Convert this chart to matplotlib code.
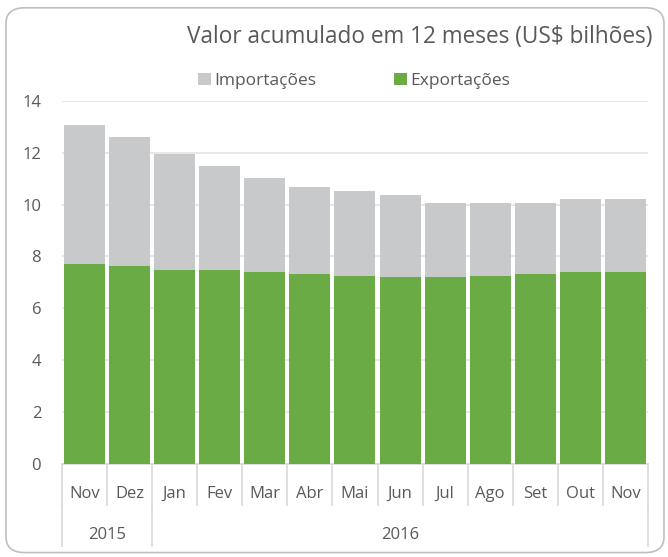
import matplotlib
matplotlib.use("Agg")
import matplotlib.pyplot as plt
from matplotlib.patches import FancyBboxPatch, Patch
import matplotlib.transforms as mtransforms

plt.rcParams['font.family'] = ['Open Sans', 'DejaVu Sans']

months = ["Nov", "Dez", "Jan", "Fev", "Mar", "Abr", "Mai", "Jun", "Jul", "Ago", "Set", "Out", "Nov"]
years = ["2015", "2016"]
year_counts = [2, 11]
exportacoes = [7.71, 7.64, 7.48, 7.48, 7.40, 7.34, 7.26, 7.19, 7.19, 7.26, 7.34, 7.42, 7.42]
total = [13.05, 12.60, 11.94, 11.49, 11.04, 10.67, 10.53, 10.37, 10.08, 10.08, 10.08, 10.22, 10.22]
importacoes = [t - e for t, e in zip(total, exportacoes)]

GREEN = "#6AAB45"
GRAY = "#C8C9CB"
TXT = "#595959"
GRID = "#E3E3E3"

fig = plt.figure(figsize=(6.68, 5.57), dpi=100)
border = FancyBboxPatch((0.009, 0.008), 0.985, 0.978, boxstyle="round,pad=0,rounding_size=0.028",
                        transform=fig.transFigure, facecolor="none", edgecolor="#BFBFBF", linewidth=1.2,
                        zorder=-1)
fig.patches.append(border)

ax = fig.add_axes([0.0928, 0.167, 0.8772, 0.652])
x = list(range(len(months)))
ax.bar(x, exportacoes, width=0.91, color=GREEN, zorder=3, label="Exportações")
ax.bar(x, importacoes, width=0.91, bottom=exportacoes, color=GRAY, zorder=3, label="Importações")

ax.set_xlim(-0.5, len(months) - 0.5)
ax.set_ylim(0, 14)
ax.set_yticks(range(0, 15, 2))
ax.yaxis.grid(True, color=GRID, linewidth=1.2, zorder=0)
for s in ["top", "right", "left"]:
    ax.spines[s].set_visible(False)
ax.spines["bottom"].set_color("#D9D9D9")
ax.spines["bottom"].set_linewidth(1.2)
ax.tick_params(axis="y", length=0, labelsize=12, labelcolor=TXT, pad=15)
ax.set_xticks([])
ax.patch.set_alpha(0)

trans = mtransforms.blended_transform_factory(ax.transData, ax.transAxes)
# month labels and separators
for i, m in enumerate(months):
    ax.text(i, -0.083, m, transform=trans, ha="center", va="center", fontsize=12, color=TXT)
for b in range(len(months) + 1):
    ax.plot([b - 0.5, b - 0.5], [0, -0.113], transform=trans, color="#D9D9D9", lw=1.2, clip_on=False)
# year labels and separators
start = 0
bounds = [0]
for y, c in zip(years, year_counts):
    ax.text(start + (c - 1) / 2, -0.195, y, transform=trans, ha="center", va="center", fontsize=12, color=TXT)
    start += c
    bounds.append(start)
for b in bounds:
    ax.plot([b - 0.5, b - 0.5], [-0.113, -0.226], transform=trans, color="#D9D9D9", lw=1.2, clip_on=False)

fig.text(0.976, 0.934, "Valor acumulado em 12 meses (US$ bilhões)", ha="right", va="center",
         fontsize=16.3, color=TXT)

handles = [Patch(facecolor=GRAY), Patch(facecolor=GREEN)]
fig.legend(handles, ["Importações", "Exportações"], loc="center", bbox_to_anchor=(0.53, 0.855),
           ncol=2, frameon=False, fontsize=12.5, labelcolor=TXT, handlelength=0.75, handleheight=0.75,
           handletextpad=0.2, columnspacing=4.5)

fig.savefig("out.png", dpi=100)
